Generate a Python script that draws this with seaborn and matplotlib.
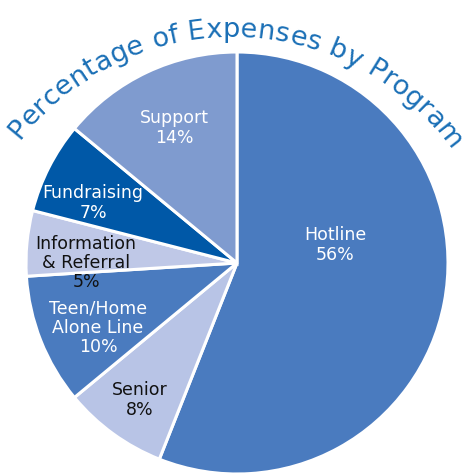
import numpy as np
import matplotlib
matplotlib.use("Agg")
import matplotlib.pyplot as plt
import seaborn as sns
from matplotlib.font_manager import FontProperties, findfont
from matplotlib.ft2font import FT2Font

# data
programs = ["Hotline", "Senior", "Teen/Home\nAlone Line", "Information\n& Referral", "Fundraising", "Support"]
percents = [56, 8, 10, 5, 7, 14]
slice_colors = ["#4a7bbf", "#b8c4e6", "#4a7bbf", "#bfc8e7", "#0058a7", "#7f9bcf"]
label_colors = ["white", "#111111", "white", "#111111", "white", "white"]
title = "Percentage of Expenses by Program"

# label centres in image pixels (x, y from top)
label_pos = [(335, 245), (140, 400), (98, 328), (86, 263), (93, 203), (174, 128)]

W, H = 466, 474
sns.set_style("white")
plt.rcParams['font.family'] = ['DejaVu Sans']

fig = plt.figure(figsize=(W / 100, H / 100), dpi=100)
ax = fig.add_axes([0, 0, 1, 1])

pie_cx, pie_cy, pie_r = 237, H - 263, 211
ax.pie(percents, colors=sns.color_palette(slice_colors), startangle=90, counterclock=False,
       center=(pie_cx, pie_cy), radius=pie_r,
       wedgeprops=dict(edgecolor="white", linewidth=2.2))

for name, pct, (x, y), c in zip(programs, percents, label_pos, label_colors):
    ax.text(x, H - y, f"{name}\n{pct}%", ha="center", va="center", color=c,
            fontsize=12.5, linespacing=1.1)

# curved title along an arc
fsize = 19.5
fp = FontProperties(family="DejaVu Sans", size=fsize)
font = FT2Font(findfont(fp))
font.set_size(fsize, 72)
adv = []
for ch in title:
    g = font.load_char(ord(ch))
    adv.append(g.linearHoriAdvance / 65536 * 100 / 72)
adv = np.array(adv)
arc_cx, arc_cy, arc_r = 231, H - 305, 268
th0, th1 = np.radians(142), np.radians(35)
arc_len = arc_r * (th0 - th1)
track = (arc_len - adv.sum()) / (len(title) - 1)
before = np.concatenate([[0], np.cumsum(adv)[:-1]])
for i, ch in enumerate(title):
    if ch == " ":
        continue
    s = before[i] + adv[i] / 2 + i * track
    th = th0 - s / arc_r
    ax.text(arc_cx + arc_r * np.cos(th), arc_cy + arc_r * np.sin(th), ch,
            rotation=np.degrees(th) - 90, rotation_mode="anchor",
            ha="center", va="baseline", color="#1a6fb6", fontproperties=fp)

ax.set_xlim(0, W)
ax.set_ylim(0, H)
ax.set_aspect("equal")
ax.axis("off")
fig.savefig("out.png", dpi=100)
